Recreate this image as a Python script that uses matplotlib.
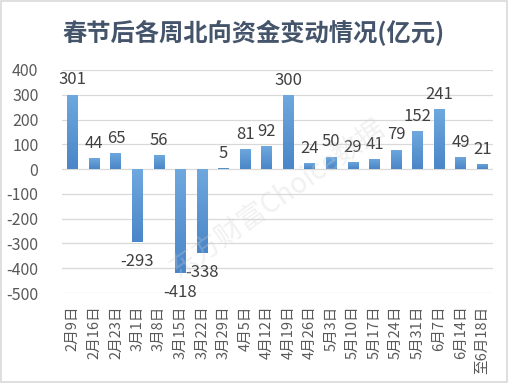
import matplotlib
matplotlib.use("Agg")
import matplotlib.pyplot as plt
import numpy as np
from matplotlib.patches import Rectangle
from matplotlib.colors import LinearSegmentedColormap

plt.rcParams['font.family'] = ['Noto Sans CJK SC', 'DejaVu Sans']

title = "春节后各周北向资金变动情况(亿元)"
categories = ["2月9日", "2月16日", "2月23日", "3月1日", "3月8日", "3月15日", "3月22日",
              "3月29日", "4月5日", "4月12日", "4月19日", "4月26日", "5月3日", "5月10日",
              "5月17日", "5月24日", "5月31日", "6月7日", "6月14日", "至6月18日"]
values = [301, 44, 65, -293, 56, -418, -338, 5, 81, 92, 300, 24, 50, 29, 41, 79, 152, 241, 49, 21]
yticks = [400, 300, 200, 100, 0, -100, -200, -300, -400, -500]

fig = plt.figure(figsize=(5.08, 3.83), dpi=100)
ax = fig.add_axes([62/508, 1-293/383, (493-62)/508, (293-70)/383])

x = np.arange(len(categories))
bars = ax.bar(x, values, width=0.5, color="#5b9bd5", zorder=3)

cmap = LinearSegmentedColormap.from_list("g", ["#4a86c8", "#6fa8de"])
grad = np.linspace(0, 1, 64).reshape(-1, 1)
for b in bars:
    x0, y0 = b.get_x(), b.get_y()
    w, h = b.get_width(), b.get_height()
    lo, hi = min(y0, y0 + h), max(y0, y0 + h)
    if hi - lo < 1e-9:
        continue
    im = ax.imshow(grad, cmap=cmap, aspect='auto', origin='lower',
                   extent=[x0, x0 + w, lo, hi], zorder=4)
    im.set_clip_path(b)

for xi, v in zip(x, values):
    if v >= 0:
        ax.annotate(str(v), (xi, v), xytext=(0, 4.5), textcoords='offset points',
                    ha='center', va='bottom', fontsize=12, color='#404040', zorder=5)
    else:
        ax.annotate(str(v), (xi, v), xytext=(0, -8), textcoords='offset points',
                    ha='center', va='top', fontsize=12, color='#404040', zorder=5)

ax.set_xlim(-0.5, len(categories) - 0.5)
ax.set_ylim(-500, 400)
ax.set_yticks(yticks)
ax.set_yticklabels([str(t) for t in yticks], fontsize=11.5, color='#595959')
ax.set_xticks(x)
ax.set_xticklabels(categories, rotation=90, fontsize=10.5, color='#595959', va='top', ha='center')
ax.tick_params(axis='both', length=0)
ax.tick_params(axis='y', pad=17)
ax.tick_params(axis='x', pad=9)
ax.grid(axis='y', color='#d9d9d9', linewidth=0.9, zorder=0)
for s in ax.spines.values():
    s.set_visible(False)

ax.text(0.5, 0.42, "东方财富Choice数据", transform=ax.transAxes, rotation=35,
        fontsize=20, color='#d0d0d0', alpha=0.3, ha='center', va='center', zorder=6)

fig.text(0.5, 1 - 33/383, title, ha='center', va='center', fontsize=17.5,
         fontweight='bold', color='#44546a')

fig.patches.append(Rectangle((0.002, 0.003), 0.996, 0.994, transform=fig.transFigure,
                             fill=False, edgecolor='#d9d9d9', linewidth=1.2))

fig.savefig("out.png", dpi=100)
